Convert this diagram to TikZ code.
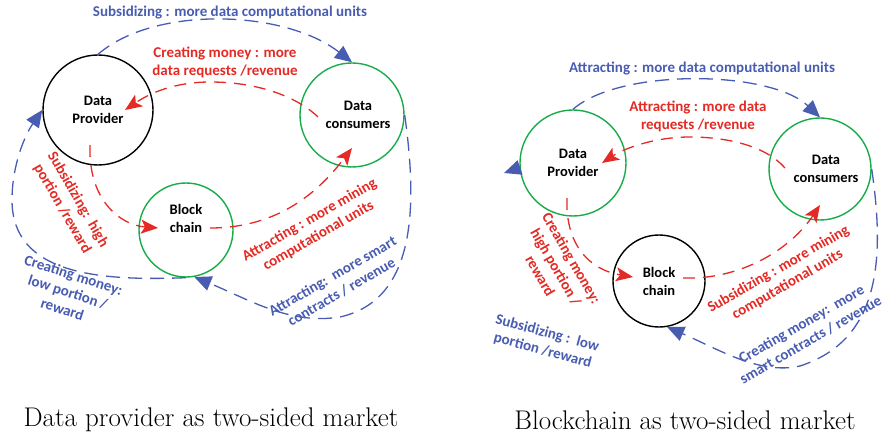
\documentclass[tikz,border=0pt]{standalone}
\usepackage{fontspec}
\newfontfamily\calib{Carlito}
\usepackage{tikz}
\usetikzlibrary{arrows.meta, calc}
\definecolor{mblue}{RGB}{72,92,178}
\definecolor{mred}{RGB}{228,42,36}
\definecolor{mgreen}{RGB}{24,172,72}

\begin{document}
\begin{tikzpicture}[x=1pt, y=-1pt,
  ring/.style={circle, line width=1.4pt, inner sep=0pt, align=center,
    font=\calib\bfseries\fontsize{14.5}{18}\selectfont},
  blueline/.style={draw=mblue, line width=1.3pt, dash pattern=on 14pt off 8pt,
    -{Triangle[length=17pt,width=15pt]}},
  redline/.style={draw=mred, line width=1.3pt, dash pattern=on 12pt off 8pt,
    -{Stealth[length=17pt,width=14pt,inset=4pt]}},
  bluetxt/.style={text=mblue, align=center, font=\calib\bfseries\fontsize{15}{18}\selectfont},
  redtxt/.style={text=mred, align=center, font=\calib\bfseries\fontsize{15}{18}\selectfont},
  caption/.style={font=\fontsize{27}{31}\selectfont}]

  \useasboundingbox (0,0) rectangle (885,438);

  % left market
  \node[ring, draw=black, minimum size=110pt] (LP) at (98,110) {Data\\Provider};
  \node[ring, draw=mgreen, minimum size=104pt] (LC) at (352,115) {\hspace*{12pt}Data\\\hspace*{12pt}consumers};
  \node[ring, draw=mgreen, minimum size=94pt] (LB) at (186,230) {Block\\chain\\[6pt]};

  \draw[blueline] (LP.north) .. controls (155,5) and (285,10) .. (LC.north);
  \draw[redline] ($(LC)+(-34,2)$) .. controls (295,95) and (255,82) .. (210,82)
    .. controls (175,82) and (150,93) .. ($(LP)+(27,0)$);
  \draw[redline] ($(LP)+(-8,35)$) .. controls (88,200) and (120,225) .. ($(LB)+(-28,-2)$);
  \draw[redline] ($(LB)+(24,-2)$) .. controls (280,228) and (320,190) .. ($(LC)+(0,33)$);
  \draw[blueline] (LC.east) .. controls (418,210) and (415,300) .. (340,317)
    .. controls (290,325) and (250,300) .. (LB.-80);
  \draw[blueline] (LB.south) .. controls (100,281) and (12,275) .. (12,200)
    .. controls (12,165) and (25,135) .. (LP.west);

  \node[bluetxt] (l1) at (230,13) {Subsidizing : more data computational units};
  \node[redtxt] (l2) at (225,62) {Creating money : more\\data requests /revenue};
  \node[redtxt, rotate=-60] (l3) at (70,204) {Subsidizing:\ \ high\\portion /reward};
  \node[redtxt, rotate=30] (l4) at (314,228) {Attracting : more mining\\computational units};
  \node[bluetxt, rotate=-18] (l5) at (68,292) {Creating money:\\low portion /\\reward};
  \node[bluetxt, rotate=30] (l6) at (337,284) {Attracting:\ \ more smart\\contracts / revenue};

  % right market
  \node[ring, draw=mgreen, minimum size=106pt] (RP) at (573,163) {Data\\Provider};
  \node[ring, draw=mgreen, minimum size=102pt] (RC) at (820,169) {\hspace*{12pt}Data\\\hspace*{12pt}consumers};
  \node[ring, draw=black, minimum size=92pt] (RB) at (659,281) {Block\\chain};
  \coordinate (RPtip) at (504,173);

  \draw[blueline] (RP.north) .. controls (620,68) and (770,70) .. (RC.north);
  \draw[redline] ($(RC)+(-35,-1)$) .. controls (765,145) and (725,137) .. (690,137)
    .. controls (655,137) and (625,148) .. ($(RP)+(29,0)$);
  \draw[redline] ($(RP)+(-6,35)$) .. controls (565,245) and (590,270) .. ($(RB)+(-26,-4)$);
  \draw[redline] ($(RB)+(24,-3)$) .. controls (740,280) and (790,250) .. ($(RC)+(0,36)$);
  \draw[blueline] (RC.east) .. controls (885,260) and (880,340) .. (800,366)
    .. controls (760,375) and (720,350) .. (RB.-80);
  \draw[blueline] (RP.185) -- (RPtip);

  \node[bluetxt] (r1) at (702,68) {Attracting : more data computational units};
  \node[redtxt] (r2) at (698,116) {Attracting : more data\\requests /revenue};
  \node[redtxt, rotate=-60] (r3) at (556,267) {Creating money:\\high portion /\\reward};
  \node[redtxt, rotate=30] (r4) at (783,277) {Subsidizing : more mining\\computational units};
  \node[bluetxt, rotate=-15] (r5) at (545,342) {Subsidizing :\ \ low\\portion /reward};
  \node[bluetxt, rotate=30] (r6) at (806,332) {Creating money:\ \ more\\smart contracts / revenue};

  \node[caption] (capL) at (211,420) {Data provider as two-sided market};
  \node[caption] (capR) at (685,420) {Blockchain as two-sided market};

\end{tikzpicture}
\end{document}
